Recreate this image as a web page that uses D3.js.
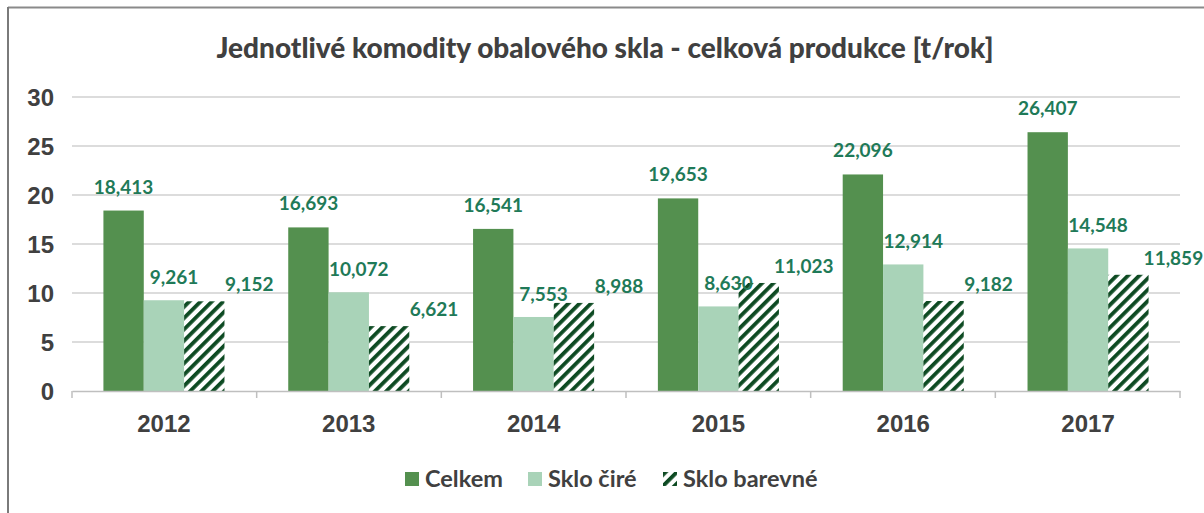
<!DOCTYPE html>
<html lang="cs">
<head>
<meta charset="utf-8">
<script src="https://cdn.jsdelivr.net/npm/d3@7"></script>
<style>
    body { margin: 0; background: #fff; }
    svg { display: block; font-family: Lato, "Open Sans", sans-serif; }
    .grid line { stroke: #d0d0d0; stroke-width: 1.5px; }
    .axis text { fill: #404040; font-weight: bold; }
    .lbl { fill: #1f7a58; font-weight: bold; font-size: 19px; }
</style>
</head>
<body>
<svg width="1204" height="513"></svg>
<script>
    // data
    var years = ["2012", "2013", "2014", "2015", "2016", "2017"];
    var series = ["Celkem", "Sklo čiré", "Sklo barevné"];
    var celkem = [18.413, 16.693, 16.541, 19.653, 22.096, 26.407];
    var skloCire = [9.261, 10.072, 7.553, 8.630, 12.914, 14.548];
    var skloBarevne = [9.152, 6.621, 8.988, 11.023, 9.182, 11.859];
    var yTicks = [0, 5, 10, 15, 20, 25, 30];

    var values = [celkem, skloCire, skloBarevne];

    var svg = d3.select("svg");
    var mLeft = 72, mRight = 1180, mTop = 97, mBottom = 391;

    var defs = svg.append("defs");
    var pat = defs.append("pattern")
        .attr("id", "hatch")
        .attr("patternUnits", "userSpaceOnUse")
        .attr("width", 8).attr("height", 8)
        .attr("patternTransform", "rotate(45)");
    pat.append("rect").attr("width", 8).attr("height", 8).attr("fill", "#fff");
    pat.append("rect").attr("x", 0).attr("width", 3.8).attr("height", 8).attr("fill", "#0d4a22");

    var fills = ["#54904f", "#a9d3b8", "url(#hatch)"];
    // label offsets per series (manual placement in the source chart)
    var lblDx = [0, 10, 45];
    var lblDy = [-17, -16, -10];

    // frame (only top and left edges visible in the crop)
    svg.append("line").attr("x1", 8).attr("x2", 1204).attr("y1", 7.5).attr("y2", 7.5)
        .attr("stroke", "#8a8a8a").attr("stroke-width", 2);
    svg.append("line").attr("x1", 8).attr("x2", 8).attr("y1", 7).attr("y2", 513)
        .attr("stroke", "#7a7a7a").attr("stroke-width", 2);

    svg.append("text")
        .attr("x", 605).attr("y", 58)
        .attr("text-anchor", "middle")
        .attr("fill", "#404040")
        .style("font-weight", "900")
        .style("font-size", "28px")
        .text("Jednotlivé komodity obalového skla - celková produkce [t/rok]");

    var y = d3.scaleLinear().domain([0, 30]).range([mBottom, mTop]);
    var x0 = d3.scaleBand().domain(years).range([mLeft, mRight]).paddingInner(0.345).paddingOuter(0.17);
    var x1 = d3.scaleBand().domain(d3.range(series.length)).range([0, x0.bandwidth()]);

    // gridlines
    svg.append("g").attr("class", "grid")
        .selectAll("line").data(yTicks.filter(function (d) { return d > 0; }))
        .enter().append("line")
        .attr("x1", mLeft).attr("x2", mRight)
        .attr("y1", function (d) { return y(d); })
        .attr("y2", function (d) { return y(d); });

    // y axis labels
    var yAxis = svg.append("g").attr("class", "axis")
        .attr("transform", "translate(" + mLeft + ",0)")
        .call(d3.axisLeft(y).tickValues(yTicks).tickSize(0).tickPadding(18));
    yAxis.select(".domain").remove();
    yAxis.selectAll("text").style("font-size", "24px").attr("dy", "0.36em");

    // bars
    var groups = svg.append("g").selectAll("g").data(years)
        .enter().append("g")
        .attr("transform", function (d) { return "translate(" + x0(d) + ",0)"; });

    groups.selectAll("rect")
        .data(function (d, i) { return values.map(function (v, s) { return { s: s, v: v[i] }; }); })
        .enter().append("rect")
        .attr("x", function (d) { return x1(d.s); })
        .attr("width", x1.bandwidth())
        .attr("y", function (d) { return y(d.v); })
        .attr("height", function (d) { return y(0) - y(d.v); })
        .attr("fill", function (d) { return fills[d.s]; });

    groups.selectAll(".lbl")
        .data(function (d, i) { return values.map(function (v, s) { return { s: s, v: v[i] }; }); })
        .enter().append("text")
        .attr("class", "lbl")
        .attr("text-anchor", "middle")
        .attr("x", function (d) { return x1(d.s) + x1.bandwidth() / 2 + lblDx[d.s]; })
        .attr("y", function (d) { return y(d.v) + lblDy[d.s]; })
        .text(function (d) { return d3.format(".3f")(d.v).replace(".", ","); });

    // x axis
    var xAxis = svg.append("g").attr("class", "axis")
        .attr("transform", "translate(0," + mBottom + ")")
        .call(d3.axisBottom(x0).tickSize(0).tickPadding(24));
    xAxis.select(".domain").attr("stroke", "#bfbfbf").attr("stroke-width", 1.5);
    xAxis.selectAll("text").style("font-size", "24px");
    // category separators
    svg.append("g").selectAll("line")
        .data(d3.range(years.length + 1))
        .enter().append("line")
        .attr("x1", function (i) { return mLeft + i * (mRight - mLeft) / years.length; })
        .attr("x2", function (i) { return mLeft + i * (mRight - mLeft) / years.length; })
        .attr("y1", mBottom).attr("y2", mBottom + 7)
        .attr("stroke", "#bfbfbf").attr("stroke-width", 1.5);

    // legend
    var legX = [405, 528, 663];
    var leg = svg.append("g").selectAll("g").data(series)
        .enter().append("g")
        .attr("transform", function (d, i) { return "translate(" + legX[i] + ",472)"; });
    leg.append("rect").attr("width", 14).attr("height", 14)
        .attr("fill", function (d, i) { return fills[i]; });
    leg.append("text")
        .attr("x", 20).attr("y", 7).attr("dy", "0.36em")
        .attr("fill", "#404040")
        .style("font-weight", "bold")
        .style("font-size", "23.5px")
        .text(function (d) { return d; });
</script>
</body>
</html>
